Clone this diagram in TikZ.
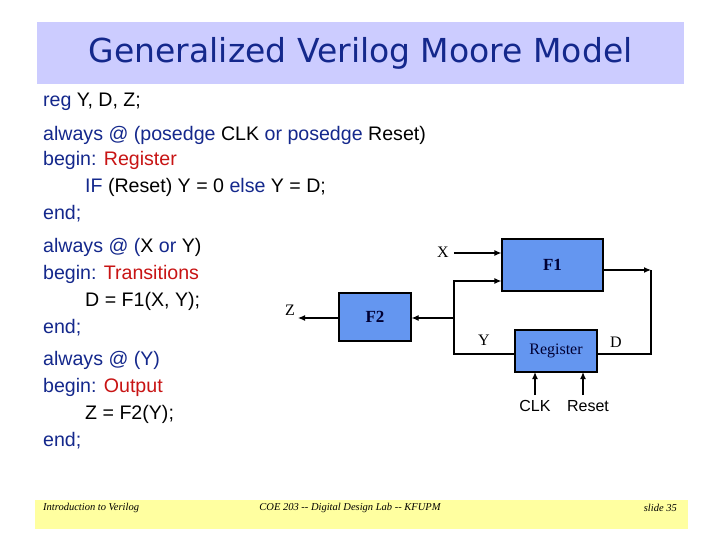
\documentclass[tikz,border=0pt]{standalone}
\usepackage{fontspec}
\setmainfont{Liberation Sans}
\newfontfamily\serifb{Liberation Serif}
\newfontfamily\titlef{DejaVu Sans}
\usetikzlibrary{arrows.meta}
\definecolor{kw}{RGB}{20,40,140}
\definecolor{rd}{RGB}{200,20,20}
\definecolor{boxb}{RGB}{100,150,240}
\definecolor{titlebg}{RGB}{204,204,255}
\definecolor{footbg}{RGB}{255,255,160}
\begin{document}
\begin{tikzpicture}[x=1pt,y=-1pt,
  code/.style={anchor=base west,inner sep=0pt,font=\fontsize{19.6}{22}\selectfont},
  blk/.style={draw=black,line width=1.2pt,fill=boxb,font=\serifb\bfseries\fontsize{17}{18}\selectfont,text=black!80!blue},
  sig/.style={font=\serifb\fontsize{16}{18}\selectfont,inner sep=1pt},
  wire/.style={line width=1.2pt,-{Latex[length=7pt,width=6pt]}},
  plain/.style={line width=1.2pt},
  foot/.style={font=\serifb\itshape\fontsize{10.5}{12}\selectfont,inner sep=0pt}]
\useasboundingbox (0,0) rectangle (720,540);
\fill[white] (0,0) rectangle (720,540);
\node[fill=titlebg,minimum width=647pt,minimum height=62pt,anchor=north west,font=\titlef\fontsize{33}{36}\selectfont,text=kw] (title) at (37,22) {Generalized Verilog Moore Model};
% code
\node[code] (l1) at (43,107) {\color{kw}reg \color{black}Y, D, Z;};
\node[code] (l2) at (43,141) {\color{kw}always @ (posedge \color{black}CLK \color{kw}or posedge \color{black}Reset)};
\node[code] (l3) at (43,166) {\color{kw}begin: \color{rd}Register};
\node[code] (l4) at (85,193) {\color{kw}IF \color{black}(Reset) Y = 0 \color{kw}else \color{black}Y = D;};
\node[code] (l5) at (43,219) {\color{kw}end;};
\node[code] (l6) at (43,252) {\color{kw}always @ (\color{black}X \color{kw}or \color{black}Y)};
\node[code] (l7) at (43,279) {\color{kw}begin: \color{rd}Transitions};
\node[code] (l8) at (85,306) {D = F1(X, Y);};
\node[code] (l9) at (43,333) {\color{kw}end;};
\node[code] (l10) at (43,365) {\color{kw}always @ (Y)};
\node[code] (l11) at (43,392) {\color{kw}begin: \color{rd}Output};
\node[code] (l12) at (85,419) {Z = F2(Y);};
\node[code] (l13) at (43,446) {\color{kw}end;};
% diagram
\node[blk,minimum width=101pt,minimum height=52pt] (F1) at (552.5,265) {F1};
\node[blk,minimum width=72pt,minimum height=48pt] (F2) at (375,317) {F2};
\node[blk,minimum width=82pt,minimum height=42pt,font=\serifb\fontsize{16}{18}\selectfont] (R) at (556,351) {Register};
\node[sig] (X) at (443,252) {X};
\node[sig] (Z) at (290,310) {Z};
\node[sig] (Y) at (484,340) {Y};
\node[sig] (D) at (616,342) {D};
\node[font=\fontsize{16}{18}\selectfont] (clk) at (535,406) {CLK};
\node[font=\fontsize{16}{18}\selectfont] (rst) at (588,406) {Reset};
\coordinate (j) at (454,318);
\coordinate (rc) at (651,270);
\draw[wire] (X.east) ++(4,1) -- (F1.west |- 0,253);
\draw[plain] (R.west |- 0,354) -- (454,354) -- (j);
\draw[wire] (j) -- (454,281) -- (F1.west |- 0,281);
\draw[wire] (j) -- (F2.east |- j);
\draw[wire] (F2.west |- j) -- (298,318);
\draw[plain] (R.east |- 0,354) -- (651,354) -- (rc);
\draw[wire] (F1.east |- rc) -- (rc);
\draw[wire] (535,395) -- (535,372);
\draw[wire] (583,395) -- (583,372);
% footer
\fill[footbg] (35,500) rectangle (688,529);
\node[foot,anchor=west] (f1) at (43,508) {Introduction to Verilog};
\node[foot] (f2) at (350,508) {COE 203 -- Digital Design Lab -- KFUPM};
\node[foot,anchor=east] (f3) at (677,508) {slide 35};
\end{tikzpicture}
\end{document}
